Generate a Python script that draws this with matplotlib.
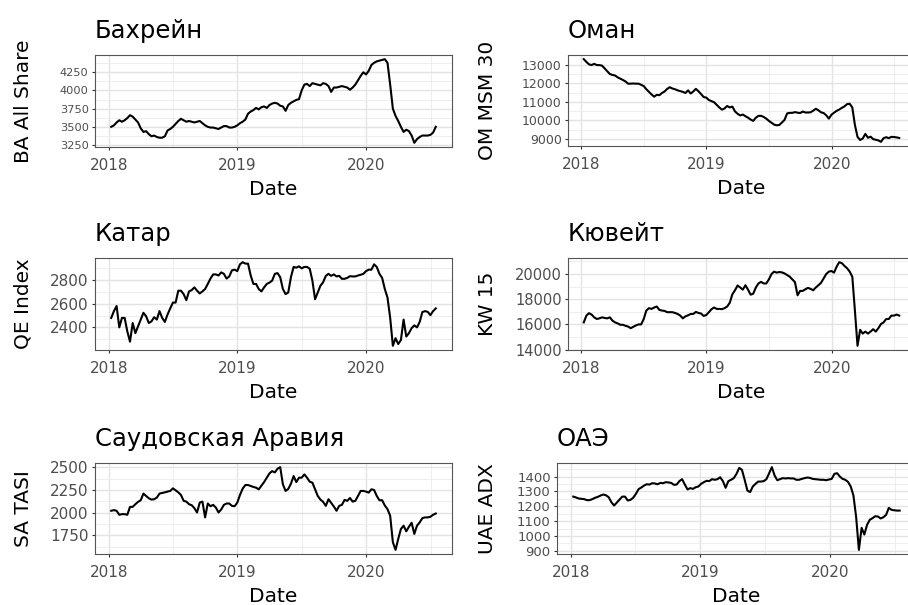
import numpy as np
import matplotlib
matplotlib.use("Agg")
import matplotlib.pyplot as plt
from matplotlib.ticker import FixedLocator, MultipleLocator, FixedFormatter
from matplotlib.transforms import blended_transform_factory

plt.rcParams['font.family'] = ['DejaVu Sans']

# roughly weekly closes, Jan 2018 .. Jul 2020
first_day = 2018.02
last_day = 2020.54
year_ticks = [2018, 2019, 2020]

bahrain = [3500, 3520, 3560, 3590, 3570, 3590, 3620, 3660, 3640, 3600, 3560, 3480,
           3430, 3440, 3400, 3370, 3380, 3360, 3350, 3350, 3370, 3450, 3470, 3500,
           3540, 3580, 3610, 3590, 3570, 3580, 3570, 3560, 3570, 3580, 3550, 3520,
           3500, 3490, 3490, 3480, 3470, 3490, 3510, 3510, 3490, 3490, 3500, 3520,
           3550, 3570, 3600, 3680, 3710, 3730, 3760, 3740, 3770, 3780, 3760, 3800,
           3820, 3830, 3820, 3790, 3780, 3720, 3800, 3830, 3850, 3870, 3880, 4000,
           4080, 4090, 4060, 4100, 4090, 4080, 4070, 4100, 4090, 4060, 3980, 4040,
           4040, 4050, 4060, 4050, 4040, 4010, 4040, 4080, 4140, 4200, 4250, 4220,
           4270, 4350, 4380, 4400, 4410, 4420, 4430, 4380, 4080, 3750, 3650, 3580,
           3500, 3430, 3460, 3440, 3380, 3280, 3330, 3360, 3380, 3380, 3380, 3390,
           3420, 3500]

oman = [13300, 13150, 13020, 12980, 13050, 12980, 12980, 12950, 12800, 12650, 12500, 12450,
        12420, 12320, 12250, 12180, 12100, 11980, 11980, 11990, 11980, 11980, 11920, 11850,
        11680, 11540, 11400, 11280, 11380, 11360, 11480, 11560, 11700, 11790, 11720, 11680,
        11620, 11580, 11540, 11480, 11620, 11450, 11560, 11700, 11570, 11420, 11260, 11230,
        11100, 11040, 10980, 10840, 10700, 10580, 10650, 10780, 10700, 10750, 10490, 10360,
        10270, 10320, 10230, 10150, 10050, 9980, 10150, 10250, 10250, 10190, 10100, 9980,
        9880, 9780, 9740, 9760, 9890, 10030, 10380, 10410, 10410, 10450, 10420, 10400,
        10480, 10430, 10430, 10440, 10530, 10630, 10550, 10440, 10400, 10280, 10100, 10310,
        10420, 10520, 10590, 10680, 10760, 10880, 10900, 10700, 9760, 9120, 8950, 9030,
        9280, 9070, 9130, 9000, 8960, 8930, 8850, 9050, 9100, 9050, 9120, 9110,
        9090, 9060]

qatar = [2480, 2537, 2580, 2400, 2480, 2480, 2366, 2280, 2437, 2352, 2409, 2466,
         2523, 2494, 2437, 2451, 2486, 2466, 2537, 2480, 2446, 2509, 2560, 2609,
         2609, 2709, 2709, 2680, 2629, 2703, 2714, 2737, 2709, 2686, 2703, 2723,
         2766, 2811, 2846, 2846, 2837, 2863, 2851, 2811, 2829, 2880, 2886, 2874,
         2931, 2949, 2937, 2937, 2837, 2766, 2766, 2723, 2703, 2737, 2766, 2777,
         2794, 2851, 2857, 2823, 2723, 2680, 2694, 2823, 2909, 2903, 2914, 2897,
         2909, 2909, 2894, 2794, 2637, 2694, 2751, 2780, 2834, 2851, 2834, 2846,
         2829, 2834, 2809, 2809, 2817, 2831, 2829, 2829, 2837, 2843, 2851, 2874,
         2886, 2886, 2931, 2909, 2851, 2817, 2723, 2651, 2480, 2245, 2309, 2260,
         2294, 2466, 2323, 2352, 2394, 2417, 2400, 2446, 2529, 2537, 2531, 2503,
         2537, 2560]

kuwait = [16160, 16700, 16890, 16780, 16560, 16430, 16480, 16560, 16510, 16480, 16560, 16300,
          16160, 16080, 15970, 15970, 15890, 15830, 15700, 15810, 15920, 16000, 16000, 16430,
          17100, 17290, 17230, 17340, 17420, 17150, 17100, 17070, 16970, 16970, 16970, 16910,
          16830, 16700, 16480, 16640, 16720, 16830, 16830, 16990, 16910, 16860, 16670, 16750,
          16970, 17210, 17340, 17230, 17230, 17210, 17290, 17420, 17720, 18390, 18710, 19090,
          18930, 18760, 19110, 18760, 18360, 18440, 18930, 19250, 19380, 19250, 19250, 19570,
          20000, 20190, 20110, 20160, 20130, 20050, 19920, 19790, 19570, 19360, 18310, 18660,
          18660, 18790, 18900, 18820, 18710, 18930, 19110, 19300, 19650, 20000, 20190, 20240,
          20110, 20590, 20940, 20860, 20640, 20460, 20190, 19790, 17100, 14300, 15570, 15270,
          15430, 15270, 15430, 15620, 15430, 15700, 16030, 16160, 16430, 16430, 16700, 16700,
          16780, 16700]

saudi = [2020, 2027, 2020, 1976, 1983, 1983, 1976, 2063, 2063, 2092, 2118, 2136,
         2209, 2183, 2158, 2143, 2147, 2165, 2209, 2216, 2223, 2231, 2238, 2267,
         2245, 2223, 2194, 2129, 2121, 2092, 2081, 2049, 2001, 2110, 2121, 1947,
         2100, 2070, 2085, 2056, 2001, 2034, 2085, 2100, 2100, 2074, 2070, 2110,
         2194, 2263, 2303, 2303, 2293, 2282, 2274, 2256, 2296, 2336, 2384, 2431,
         2456, 2442, 2482, 2500, 2311, 2238, 2260, 2318, 2402, 2336, 2384, 2384,
         2420, 2384, 2340, 2329, 2256, 2183, 2143, 2118, 2074, 2147, 2107, 2067,
         2020, 2074, 2085, 2140, 2129, 2161, 2121, 2129, 2183, 2238, 2238, 2231,
         2220, 2256, 2249, 2183, 2136, 2136, 2078, 2038, 1965, 1674, 1590, 1710,
         1819, 1856, 1794, 1845, 1888, 1765, 1856, 1892, 1939, 1947, 1947, 1954,
         1976, 1990]

uae = [1265, 1259, 1252, 1250, 1248, 1241, 1241, 1248, 1257, 1263, 1272, 1279,
       1274, 1261, 1227, 1205, 1225, 1245, 1265, 1265, 1239, 1243, 1257, 1283,
       1315, 1326, 1339, 1348, 1346, 1355, 1353, 1348, 1357, 1355, 1362, 1360,
       1357, 1344, 1346, 1369, 1382, 1346, 1313, 1322, 1317, 1328, 1333, 1351,
       1362, 1371, 1369, 1382, 1378, 1382, 1395, 1369, 1324, 1369, 1378, 1389,
       1418, 1458, 1445, 1378, 1306, 1295, 1333, 1351, 1366, 1366, 1369, 1382,
       1422, 1463, 1407, 1375, 1382, 1389, 1387, 1389, 1387, 1387, 1378, 1378,
       1384, 1389, 1393, 1391, 1384, 1382, 1380, 1378, 1378, 1375, 1380, 1384,
       1418, 1422, 1400, 1384, 1378, 1364, 1333, 1272, 1126, 907, 1055, 1010,
       1075, 1109, 1120, 1133, 1131, 1118, 1126, 1142, 1189, 1176, 1173, 1171,
       1171]

titles = ["Бахрейн", "Оман", "Катар", "Кювейт", "Саудовская Аравия", "ОАЭ"]
ylabels = ["BA All Share", "OM MSM 30", "QE Index", "KW 15", "SA TASI", "UAE ADX"]
series = [bahrain, oman, qatar, kuwait, saudi, uae]
yticks = [[3250, 3500, 3750, 4000, 4250],
          [9000, 10000, 11000, 12000, 13000],
          [2400, 2600, 2800],
          [14000, 16000, 18000, 20000],
          [1750, 2000, 2250, 2500],
          [900, 1000, 1100, 1200, 1300, 1400]]

W, H = 908, 605
# panel boxes in pixels: left, top, right, bottom
boxes = [(95, 55, 452, 147), (568, 55, 915, 146),
         (95, 258, 452, 350), (568, 258, 915, 350),
         (95, 463, 452, 554), (557, 463, 916, 554)]
ylab_right = [33, 497, 33, 497, 33, 497]
ytick_size = [8.2, 9.0, 11.0, 10.5, 11.0, 9.5]

fig = plt.figure(figsize=(W / 100, H / 100), dpi=100)

for i, (vals, title, ylab, yt, (l, t, r, b)) in enumerate(
        zip(series, titles, ylabels, yticks, boxes)):
    ax = fig.add_axes([l / W, 1 - b / H, (r - l) / W, (b - t) / H])
    x = np.linspace(first_day, last_day, len(vals))
    ax.plot(x, vals, color='black', lw=1.5)
    ax.margins(x=0.05, y=0.05)

    ax.xaxis.set_major_locator(FixedLocator(year_ticks))
    ax.xaxis.set_major_formatter(FixedFormatter([str(y) for y in year_ticks]))
    ax.xaxis.set_minor_locator(FixedLocator([y + 0.5 for y in year_ticks]))
    ax.yaxis.set_major_locator(FixedLocator(yt))
    ax.yaxis.set_minor_locator(MultipleLocator((yt[1] - yt[0]) / 2))

    ax.grid(which='major', color='#E3E3E3', lw=1.0)
    ax.grid(which='minor', color='#EBEBEB', lw=0.6)
    ax.set_axisbelow(True)
    for s in ax.spines.values():
        s.set_color('#555555')
        s.set_linewidth(0.8)
    ax.tick_params(which='major', length=2.5, width=0.8, color='#333333',
                   labelcolor='#4D4D4D')
    ax.tick_params(axis='x', labelsize=11, pad=5.5)
    ax.tick_params(axis='y', labelsize=ytick_size[i], pad=2)
    ax.tick_params(which='minor', length=0)

    ax.set_title(title, loc='left', fontsize=17.5, pad=12.5)
    ax.set_xlabel("Date", fontsize=14.5, labelpad=5)
    ax.set_ylabel(ylab, fontsize=14.5)
    ax.yaxis.set_label_coords(ylab_right[i] / W, 0.5,
                              transform=blended_transform_factory(fig.transFigure, ax.transAxes))

fig.savefig("out.png", dpi=100)
